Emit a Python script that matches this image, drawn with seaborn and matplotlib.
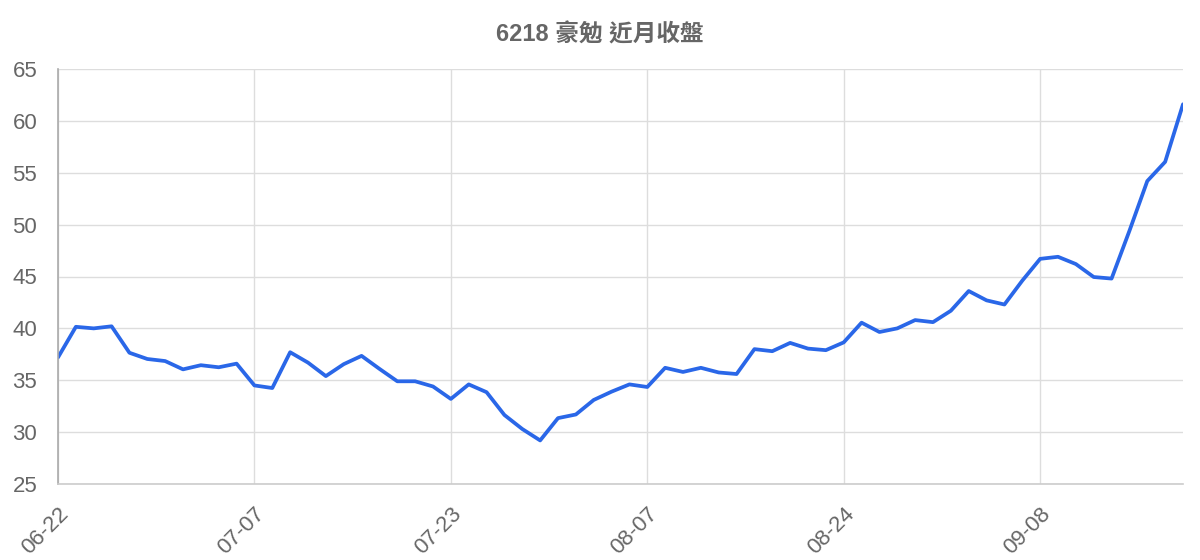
import matplotlib
matplotlib.use("Agg")
import matplotlib.pyplot as plt
import seaborn as sns
import pandas as pd

title = "6218 豪勉 近月收盤"
close_values = [
    37.2, 40.15, 40.0, 40.2, 37.65, 37.05, 36.85, 36.05, 36.45, 36.25,
    36.6, 34.5, 34.25, 37.7, 36.7, 35.4, 36.55, 37.35, 36.1, 34.9,
    34.9, 34.4, 33.2, 34.6, 33.85, 31.65, 30.3, 29.2, 31.35, 31.7,
    33.1, 33.9, 34.6, 34.35, 36.2, 35.8, 36.2, 35.75, 35.6, 38.0,
    37.8, 38.6, 38.05, 37.9, 38.65, 40.55, 39.65, 40.0, 40.8, 40.6,
    41.7, 43.6, 42.7, 42.3, 44.6, 46.7, 46.9, 46.2, 44.95, 44.8,
    49.4, 54.2, 56.05, 61.6,
]
tick_positions = [0, 11, 22, 33, 44, 55]
tick_labels = ["06-22", "07-07", "07-23", "08-07", "08-24", "09-08"]
y_ticks = [25, 30, 35, 40, 45, 50, 55, 60, 65]

df = pd.DataFrame({"idx": range(len(close_values)), "close": close_values})

sns.set_theme(style="white")
plt.rcParams["font.family"] = ["Liberation Sans", "Noto Sans CJK TC", "DejaVu Sans"]

fig = plt.figure(figsize=(12, 5.6), dpi=100)
ax = fig.add_axes([58 / 1200, 1 - 484 / 560, (1183 - 58) / 1200, (484 - 69) / 560])

grid_c = "#dddddd"
txt_c = "#666666"

sns.lineplot(data=df, x="idx", y="close", ax=ax, color="#2a67e8", linewidth=2.7)

ax.set_xlim(0, len(close_values) - 1)
ax.set_ylim(25, 65)
ax.set_xticks(tick_positions)
ax.set_xticklabels(tick_labels, rotation=45, ha="right", rotation_mode="anchor")
ax.set_yticks(y_ticks)
ax.set_yticklabels([str(v) for v in y_ticks])
ax.grid(True, color=grid_c, linewidth=1.0)
ax.set_axisbelow(True)
ax.tick_params(axis="both", length=13, color=grid_c, width=1.0, labelsize=16, labelcolor=txt_c, pad=2)
ax.tick_params(axis="x", pad=1)
for side in ["top", "right"]:
    ax.spines[side].set_visible(False)
ax.spines["left"].set_color("#aaaaaa")
ax.spines["left"].set_linewidth(1.2)
ax.spines["bottom"].set_color("#cccccc")
ax.spines["bottom"].set_linewidth(1.2)
ax.set_xlabel("")
ax.set_ylabel("")

fig.text(0.5, 1 - 35 / 560, title, ha="center", va="center", fontsize=17, fontweight="bold",
         color=txt_c, family=["Liberation Sans", "Noto Sans CJK TC"])

fig.savefig("out.png", dpi=100)
